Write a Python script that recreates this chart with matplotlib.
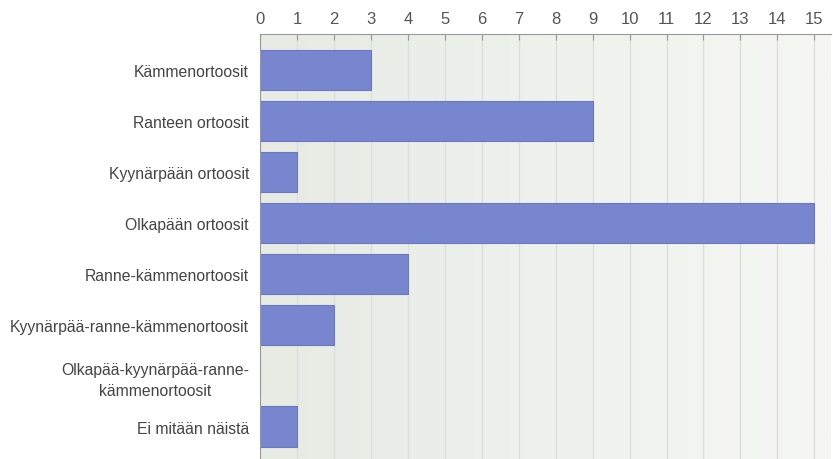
import matplotlib
matplotlib.use("Agg")
import matplotlib.pyplot as plt
import numpy as np
from matplotlib.colors import LinearSegmentedColormap

categories = [
    "Kämmenortoosit",
    "Ranteen ortoosit",
    "Kyynärpään ortoosit",
    "Olkapään ortoosit",
    "Ranne-kämmenortoosit",
    "Kyynärpää-ranne-kämmenortoosit",
    "Olkapää-kyynärpää-ranne-\nkämmenortoosit",
    "Ei mitään näistä",
]
values = [3, 9, 1, 15, 4, 2, 0, 1]
xticks = list(range(0, 16))

plt.rcParams['font.family'] = ['Liberation Sans', 'DejaVu Sans']

fig = plt.figure(figsize=(8.33, 4.6), dpi=100)
ax = fig.add_axes([260/833, 0.0, (831-260)/833, (460-35)/460])

xmax = 15.45
ymin, ymax = 7.63, -0.706
ax.set_xlim(0, xmax)
ax.set_ylim(ymin, ymax)

# background gradient
cmap = LinearSegmentedColormap.from_list("bg", ["#e7ebe4", "#eef1ec", "#f6f7f4"])
grad = np.linspace(0, 1, 256).reshape(1, -1)
ax.imshow(grad, cmap=cmap, aspect="auto", extent=[0, xmax, ymin, ymax], zorder=0)

for x in xticks[1:]:
    ax.axvline(x, color="#dcdfda", lw=1, zorder=1)

y = np.arange(len(categories))
ax.barh(y, values, height=0.8, color="#7886d0", edgecolor="#6b78c0", lw=0.8, zorder=2)

ax.xaxis.tick_top()
ax.set_xticks(xticks)
ax.set_xticklabels([str(t) for t in xticks], fontsize=12, color="#555555")
ax.tick_params(axis="x", direction="in", length=4, color="#999999", pad=6)
ax.set_yticks(y)
ax.set_yticklabels(categories, fontsize=11.3, color="#444444", linespacing=1.5)
for lbl in ax.get_yticklabels():
    lbl.set_multialignment("center")
ax.tick_params(axis="y", length=0, pad=8)

for s in ["right", "bottom"]:
    ax.spines[s].set_visible(False)
ax.spines["top"].set_color("#999999")
ax.spines["left"].set_color("#999999")

fig.savefig("out.png", dpi=100)
